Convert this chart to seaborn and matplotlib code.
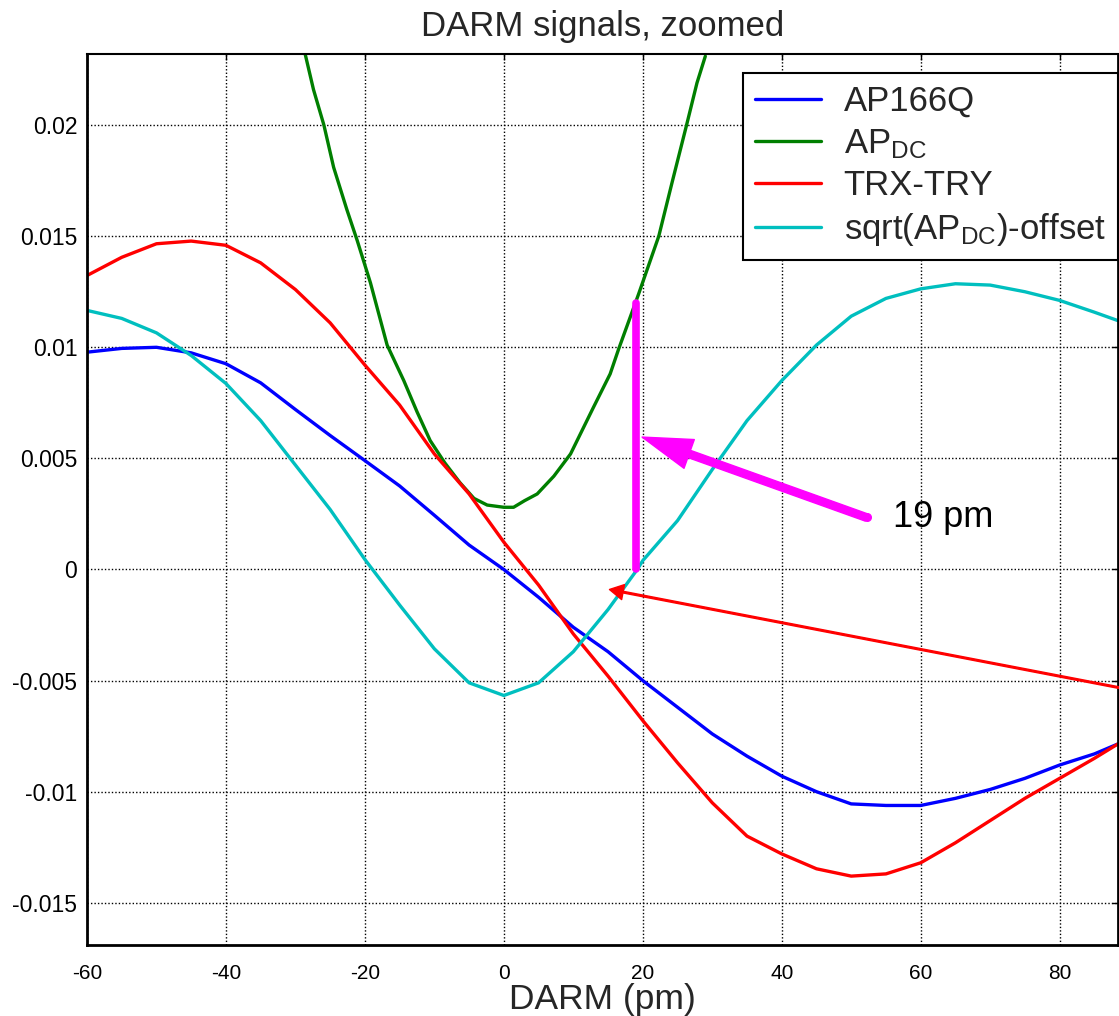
import matplotlib
matplotlib.use("Agg")
import matplotlib.pyplot as plt
import seaborn as sns
import pandas as pd

# DARM offset (pm) and the four detector signals
ap166q_x = [-60, -55, -50, -45, -40, -35, -30, -25, -20, -15, -10, -5, 0, 5, 10, 15,
            20, 25, 30, 35, 40, 45, 50, 55, 60, 65, 70, 75, 80, 85, 88.4]
ap166q_y = [0.00978, 0.00995, 0.0100, 0.00975, 0.00926, 0.00840, 0.00720, 0.00603,
            0.00490, 0.00376, 0.00244, 0.00110, 0.0, -0.00125, -0.0026, -0.0037,
            -0.0050, -0.0062, -0.0074, -0.0084, -0.0093, -0.0100, -0.01055, -0.01062,
            -0.01062, -0.0103, -0.0099, -0.0094, -0.0088, -0.0083, -0.00785]

apdc_x = [-28.6, -27.4, -25.9, -24.5, -22.6, -21.1, -19.2, -16.8, -14.4, -12.5, -10.6,
          -8.5, -6.3, -4.3, -2.4, 0, 1.4, 3, 4.8, 7.2, 9.6, 12.9, 15.3, 16.5, 19.4,
          22.3, 24.2, 26.3, 27.8, 29]
apdc_y = [0.0232, 0.0216, 0.0200, 0.0181, 0.0162, 0.0148, 0.0129, 0.0101, 0.0085,
          0.0071, 0.0058, 0.0048, 0.0039, 0.0032, 0.0029, 0.0028, 0.0028, 0.0031,
          0.0034, 0.0042, 0.0052, 0.0073, 0.0088, 0.0099, 0.0124, 0.0150, 0.0174,
          0.0200, 0.0219, 0.0231]

trx_try_x = ap166q_x
trx_try_y = [0.01323, 0.01405, 0.01466, 0.01478, 0.01459, 0.01380, 0.01260, 0.01110,
             0.00920, 0.00740, 0.00520, 0.00340, 0.00123, -0.0007, -0.0029, -0.0048,
             -0.0068, -0.0087, -0.0105, -0.0120, -0.0128, -0.01347, -0.0138, -0.0137,
             -0.0132, -0.0123, -0.0113, -0.0103, -0.0094, -0.0085, -0.00785]

sqrt_x = [-60, -55, -50, -45, -40, -35, -30, -25, -20, -15, -10, -5, 0, 5, 10, 15,
          19.2, 20, 25, 30, 35, 40, 45, 50, 55, 60, 65, 70, 75, 80, 85, 88.4]
sqrt_y = [0.01166, 0.01130, 0.01065, 0.00963, 0.00837, 0.00670, 0.00470, 0.00270,
          0.00045, -0.0016, -0.00357, -0.0051, -0.00567, -0.0051, -0.0037, -0.0018,
          0.0, 0.0004, 0.0022, 0.0045, 0.0067, 0.0085, 0.0101, 0.0114, 0.0122,
          0.01263, 0.01286, 0.0128, 0.0125, 0.01211, 0.01158, 0.0112]

series_labels = ["AP166Q", r"AP$_{\mathrm{DC}}$", "TRX-TRY",
                 r"sqrt(AP$_{\mathrm{DC}}$)-offset"]
series_colors = ["#0000ff", "#007f00", "#ff0000", "#00bfbf"]

# zero crossing marker and the operating-point arrow
zero_cross_x = 19.0
zero_cross_top = 0.0120
big_arrow_tip = (19.9, 0.00596)
big_arrow_tail = (52.2, 0.00234)
label_text = "19 pm"
label_pos = (56.0, 0.00234)
thin_arrow_tip = (15.2, -0.0009)
thin_arrow_tail = (88.6, -0.00532)

x_ticks = [-60, -40, -20, 0, 20, 40, 60, 80]
y_ticks = [-0.015, -0.01, -0.005, 0, 0.005, 0.01, 0.015, 0.02]
y_tick_labels = ["-0.015", "-0.01", "-0.005", "0", "0.005", "0.01", "0.015", "0.02"]

sns.set_theme(style="white")
plt.rcParams["font.family"] = ["Liberation Sans", "DejaVu Sans"]
plt.rcParams["mathtext.fontset"] = "custom"
plt.rcParams["mathtext.rm"] = "Liberation Sans"
plt.rcParams["mathtext.it"] = "Liberation Sans"

W, H = 1119, 1016
fig = plt.figure(figsize=(W / 100, H / 100), dpi=100)
ax = fig.add_axes([87 / W, 1 - 945 / H, 1031 / W, 891 / H])

frames = [
    pd.DataFrame({"x": ap166q_x, "y": ap166q_y}),
    pd.DataFrame({"x": apdc_x, "y": apdc_y}),
    pd.DataFrame({"x": trx_try_x, "y": trx_try_y}),
    pd.DataFrame({"x": sqrt_x, "y": sqrt_y}),
]
for df, lab, col in zip(frames, series_labels, series_colors):
    sns.lineplot(data=df, x="x", y="y", color=col, lw=2.4, label=lab, ax=ax,
                 sort=False, estimator=None)

# vertical marker at the zero crossing
ax.plot([zero_cross_x, zero_cross_x], [0, zero_cross_top], color="#ff00ff",
        lw=5.5, solid_capstyle="round", zorder=5)

# thick magenta arrow pointing to the marker
ax.annotate("", xy=big_arrow_tip, xytext=big_arrow_tail,
            arrowprops=dict(facecolor="#ff00ff", edgecolor="#ff00ff", width=5.5,
                            headwidth=22, headlength=36, shrink=0), zorder=6)
ax.plot([big_arrow_tail[0]], [big_arrow_tail[1]], marker="o", ms=5.5,
        color="#ff00ff", zorder=6)
ax.text(label_pos[0], label_pos[1], label_text, fontsize=26, va="center",
        ha="left", color="black")

# thin red arrow
ax.annotate("", xy=thin_arrow_tip, xytext=thin_arrow_tail,
            arrowprops=dict(facecolor="#ff0000", edgecolor="#ff0000", width=1.2,
                            headwidth=11, headlength=10, shrink=0),
            annotation_clip=False, zorder=6)

ax.set_xlim(-60, 88.4)
ax.set_ylim(-0.0169, 0.0232)
ax.set_xticks(x_ticks)
ax.set_xticklabels([str(t) for t in x_ticks])
ax.set_yticks(y_ticks)
ax.set_yticklabels(y_tick_labels)
ax.tick_params(direction="in", top=True, right=True, length=4, width=1,
               colors="black")
ax.tick_params(axis="x", pad=14, labelsize=15)
ax.tick_params(axis="y", pad=7, labelsize=16.5)

ax.grid(True, color="black", linestyle=(0, (1, 1.5)), lw=1.0)
for side in ["left", "bottom", "right"]:
    ax.spines[side].set_color("black")
    ax.spines[side].set_linewidth(2)
ax.spines["top"].set_color("black")
ax.spines["top"].set_linewidth(1.5)
ax.spines["top"].set_linestyle((0, (1, 1)))

ax.set_title("DARM signals, zoomed", fontsize=25, pad=13)
ax.set_xlabel("DARM (pm)", fontsize=25.5, labelpad=0)
ax.set_ylabel("")

leg = ax.legend(loc="upper right", bbox_to_anchor=(1.0, 0.9787), borderaxespad=0,
                fontsize=25, frameon=True, fancybox=False, framealpha=1,
                edgecolor="black", handlelength=1.9, handletextpad=0.66,
                labelspacing=0.25, borderpad=0.35)
leg.get_frame().set_linewidth(1.5)

fig.savefig("out.png", dpi=100)
